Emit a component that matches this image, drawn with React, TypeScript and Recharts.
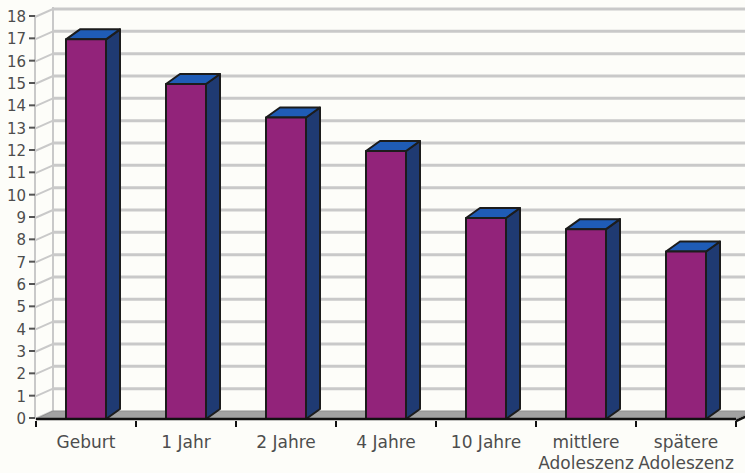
import React from 'react'
import { BarChart, Bar, XAxis, YAxis, CartesianGrid } from 'recharts'

const categories = ['Geburt', '1 Jahr', '2 Jahre', '4 Jahre', '10 Jahre', 'mittlere\nAdoleszenz', 'spätere\nAdoleszenz']
const values = [17, 15, 13.5, 12, 9, 8.5, 7.5]
const yTicks = [0, 1, 2, 3, 4, 5, 6, 7, 8, 9, 10, 11, 12, 13, 14, 15, 16, 17, 18]

const data = categories.map((name, i) => ({ name, value: values[i] }))

const W = 745
const H = 473
const LEFT = 36
const RIGHT = 736
const TOP = 17
const BOTTOM = 419
const BAND = (RIGHT - LEFT) / categories.length
// depth of the back wall and of the bars
const WX = 17, WY = 8
const DX = 14, DY = 10

const GRID = '#c9c9c9'
const TEXT = '#4d4d4d'
const FONT = '"DejaVu Sans", sans-serif'

function Box3D(props: any) {
  const { x, y, width: w, height: h } = props
  const stroke = { stroke: '#1c1c1c', strokeWidth: 2, strokeLinejoin: 'round' as const }
  return (
    <g>
      <polygon points={`${x + w},${y} ${x + w + DX},${y - DY} ${x + w + DX},${y + h - DY} ${x + w},${y + h}`} fill="#1f3a72" {...stroke} />
      <polygon points={`${x},${y} ${x + DX},${y - DY} ${x + w + DX},${y - DY} ${x + w},${y}`} fill="#1f5cb6" {...stroke} />
      <rect x={x} y={y} width={w} height={h} fill="#92237a" {...stroke} />
    </g>
  )
}

function GridLine(props: any) {
  const { y1, index } = props
  const isFloor = Math.abs(y1 - BOTTOM) < 1
  return (
    <g key={`g${index}`}>
      {index === 0 && (
        <>
          <line x1={LEFT - 1} y1={TOP - 2} x2={LEFT - 1} y2={BOTTOM} stroke={GRID} strokeWidth={2} />
          <line x1={LEFT + WX} y1={TOP - 2 - WY} x2={LEFT + WX} y2={BOTTOM - WY} stroke={GRID} strokeWidth={2} />
        </>
      )}
      <line x1={LEFT - 1} y1={y1} x2={LEFT + WX} y2={y1 - WY} stroke={GRID} strokeWidth={2} />
      {isFloor ? (
        <>
          <polygon points={`${LEFT},${BOTTOM} ${RIGHT},${BOTTOM} ${RIGHT + WX},${BOTTOM - WY} ${LEFT + WX},${BOTTOM - WY}`} fill="#a2a2a2" stroke="#8f8f8f" strokeWidth={1} />
          <line x1={RIGHT} y1={BOTTOM + 2} x2={RIGHT + WX} y2={BOTTOM + 2 - WY} stroke="#111" strokeWidth={2.5} />
        </>
      ) : (
        <line x1={LEFT + WX} y1={y1 - WY} x2={W + 20} y2={y1 - WY} stroke={GRID} strokeWidth={3} />
      )}
    </g>
  )
}

function YTick(props: any) {
  const { y, payload } = props
  return (
    <g>
      <line x1={LEFT - 7} y1={y - 1} x2={LEFT - 1} y2={y - 1} stroke="#555" strokeWidth={2} />
      <text x={LEFT - 10} y={y + 5} textAnchor="end" fontFamily={FONT} fontSize={15} fill={TEXT}>
        {payload.value}
      </text>
    </g>
  )
}

function XTick(props: any) {
  const { x, payload, index } = props
  const lines = String(payload.value).split('\n')
  return (
    <g>
      <line x1={x - BAND / 2} y1={BOTTOM + 2} x2={x - BAND / 2} y2={BOTTOM + 8} stroke="#111" strokeWidth={2} />
      {index === categories.length - 1 && (
        <line x1={x + BAND / 2} y1={BOTTOM + 2} x2={x + BAND / 2} y2={BOTTOM + 8} stroke="#111" strokeWidth={2} />
      )}
      {lines.map((t, i) => (
        <text key={i} x={x} y={BOTTOM + 29 + i * 21} textAnchor="middle" fontFamily={FONT} fontSize={17} fill={TEXT}>
          {t}
        </text>
      ))}
    </g>
  )
}

export default function App() {
  return (
    <div style={{ position: 'absolute', left: 0, top: 0, width: W, height: H, background: '#fdfdf9', overflow: 'hidden' }}>
      <BarChart
        width={W}
        height={H}
        data={data}
        margin={{ top: TOP, right: W - RIGHT, bottom: H - BOTTOM - 50, left: 0 }}
        barCategoryGap="30%"
      >
        <CartesianGrid vertical={false} horizontal={(p: any) => <GridLine {...p} />} />
        <YAxis
          domain={[0, 18]}
          ticks={yTicks}
          interval={0}
          width={LEFT}
          axisLine={false}
          tickLine={false}
          tick={(p: any) => <YTick {...p} />}
        />
        <XAxis
          dataKey="name"
          height={50}
          interval={0}
          tickLine={false}
          axisLine={{ stroke: '#111', strokeWidth: 2.5 }}
          tick={(p: any) => <XTick {...p} />}
        />
        <Bar dataKey="value" isAnimationActive={false} shape={(p: any) => <Box3D {...p} />} />
      </BarChart>
    </div>
  )
}
